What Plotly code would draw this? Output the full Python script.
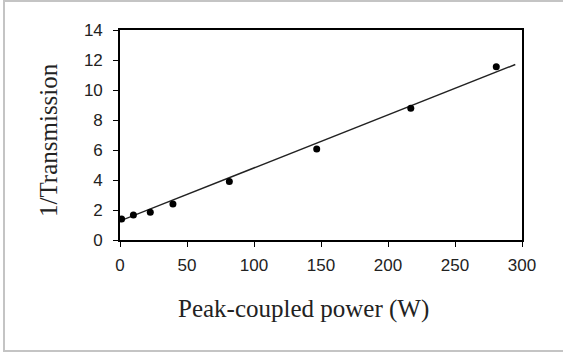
import plotly.graph_objects as go

# Data
power_w = [1.2, 10, 22.6, 39.5, 81.6, 146.8, 217, 280.8]
inv_transmission = [1.4, 1.67, 1.85, 2.4, 3.9, 6.07, 8.78, 11.55]
fit_x = [0, 295]
fit_y = [1.27, 11.7]

x_ticks = [0, 50, 100, 150, 200, 250, 300]
y_ticks = [0, 2, 4, 6, 8, 10, 12, 14]

W, H = 563, 353
L, R, T, B = 120, 41, 30, 113
pw, ph = W - L - R, H - T - B

def px_x(p):
    return (p - L) / pw

def px_y(p):
    return (H - B - p) / ph

fig = go.Figure()
fig.add_trace(go.Scatter(x=fit_x, y=fit_y, mode="lines",
                         line=dict(color="#222222", width=1.4),
                         showlegend=False, hoverinfo="skip"))
fig.add_trace(go.Scatter(x=power_w, y=inv_transmission, mode="markers",
                         marker=dict(color="black", size=7),
                         showlegend=False))

axis_common = dict(showgrid=False, zeroline=False, showline=True,
                   linecolor="black", linewidth=1.6, mirror=True,
                   ticks="outside", ticklen=5, tickwidth=1.4, tickcolor="black",
                   tickfont=dict(family="Liberation Sans, Arial", size=17, color="#222222"))

fig.update_xaxes(range=[0, 300], tickvals=x_ticks, ticktext=[str(v) for v in x_ticks],
                 ticklabelstandoff=4, **axis_common)
fig.update_yaxes(range=[0, 14], tickvals=y_ticks, ticktext=[str(v) for v in y_ticks],
                 ticklabelstandoff=7, **axis_common)

fig.add_annotation(text="Peak-coupled power (W)", xref="paper", yref="paper",
                   x=px_x(303), y=px_y(309), xanchor="center", yanchor="middle",
                   showarrow=False,
                   font=dict(family="Liberation Serif, Times New Roman", size=25, color="#222222"))
fig.add_annotation(text="1/Transmission", xref="paper", yref="paper",
                   x=px_x(48), y=px_y(140), xanchor="center", yanchor="middle",
                   showarrow=False, textangle=-90,
                   font=dict(family="Liberation Serif, Times New Roman", size=25, color="#222222"))

fig.add_shape(type="rect", xref="paper", yref="paper",
              x0=px_x(4), x1=px_x(600), y0=px_y(351), y1=px_y(1),
              line=dict(color="#c4c4c4", width=2), layer="below")

fig.update_layout(width=W, height=H, margin=dict(l=L, r=R, t=T, b=B),
                  paper_bgcolor="white", plot_bgcolor="white")

fig.write_html("out.html")
